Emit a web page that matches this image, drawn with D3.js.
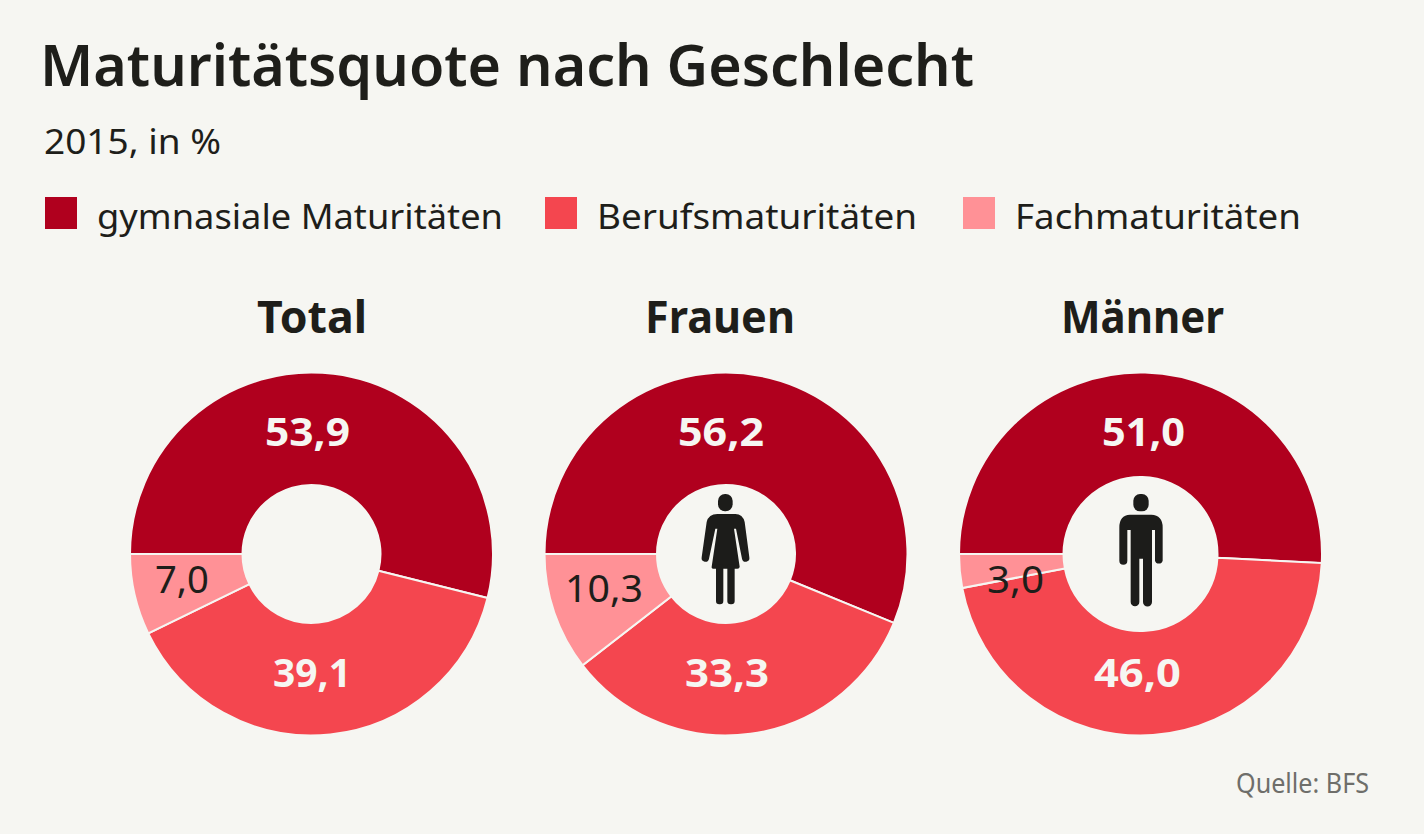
<!DOCTYPE html>
<html>
<head>
<meta charset="utf-8">
<script src="https://d3js.org/d3.v7.min.js"></script>
<style>
  html, body { margin: 0; padding: 0; background: #f6f6f2; }
  text { font-family: "Noto Sans", sans-serif; fill: #1e1e1a; }
</style>
</head>
<body>
<div id="chart"></div>
<script>
const categories = ["gymnasiale Maturitäten", "Berufsmaturitäten", "Fachmaturitäten"];
const groups = ["Total", "Frauen", "Männer"];
// printed values
const totalValues = [53.9, 39.1, 7.0];
const frauenValues = [56.2, 33.3, 10.3];
const maennerValues = [51.0, 46.0, 3.0];
// slice sizes as measured on the picture, they differ a bit from the printed labels
const totalShares = [53.9, 38.9, 7.2];
const frauenShares = [56.2, 33.3, 10.5];
const maennerShares = [50.8, 46.2, 3.0];
const colors = ["#b0001e", "#f4464f", "#ff9196"];

const width = 1424;
const height = 834;

const svg = d3.select("#chart").append("svg")
  .attr("width", width)
  .attr("height", height)
  .style("display", "block");

svg.append("text")
  .attr("x", 40)
  .attr("y", 86)
  .style("font-size", "58px")
  .style("font-weight", 600)
  .attr("textLength", 934)
  .attr("lengthAdjust", "spacingAndGlyphs")
  .text("Maturitätsquote nach Geschlecht");

svg.append("text")
  .attr("x", 44)
  .attr("y", 154)
  .style("font-size", "34px")
  .attr("textLength", 177)
  .attr("lengthAdjust", "spacingAndGlyphs")
  .text("2015, in %");

// legend
const legendX = [45, 545, 963];
const legendW = [406, 320, 286];
categories.forEach((c, i) => {
  svg.append("rect")
    .attr("x", legendX[i])
    .attr("y", 197)
    .attr("width", 32)
    .attr("height", 32)
    .attr("fill", colors[i]);
  svg.append("text")
    .attr("x", legendX[i] + 52)
    .attr("y", 229)
    .style("font-size", "35px")
    .attr("textLength", legendW[i])
    .attr("lengthAdjust", "spacingAndGlyphs")
    .text(c);
});

const pie = d3.pie().sort(null)
  .startAngle(-Math.PI / 2)
  .endAngle(Math.PI * 1.5);

const donuts = [
  { name: groups[0], values: totalValues, shares: totalShares, cx: 311.5, inner: 69,
    titleX: 312, titleW: 110,
    labelX: [-4, 0.5, -129.5], labelY: [-108, 133, 39], labelW: [85, 78, 54] },
  { name: groups[1], values: frauenValues, shares: frauenShares, cx: 726, inner: 69,
    titleX: 720, titleW: 150,
    labelX: [-5, 1, -122], labelY: [-108, 133, 48], labelW: [86, 84, 78] },
  { name: groups[2], values: maennerValues, shares: maennerShares, cx: 1140.5, inner: 77,
    titleX: 1142.5, titleW: 163,
    labelX: [3, -3, -125], labelY: [-108, 133, 39], labelW: [83, 87, 57] }
];
const cy = 554;
const outer = 181.5;

donuts.forEach(d => {
  const g = svg.append("g").attr("transform", `translate(${d.cx},${cy})`);
  const arc = d3.arc().innerRadius(d.inner).outerRadius(outer);

  svg.append("text")
    .attr("x", d.titleX)
    .attr("y", 332.5)
    .attr("text-anchor", "middle")
    .style("font-size", "44px")
    .style("font-weight", 700)
    .attr("textLength", d.titleW)
    .attr("lengthAdjust", "spacingAndGlyphs")
    .text(d.name);

  g.selectAll("path.slice")
    .data(pie(d.shares))
    .join("path")
    .attr("class", "slice")
    .attr("fill", (s, i) => colors[i])
    .attr("stroke", "#f6f6f2")
    .attr("stroke-width", 2)
    .attr("d", arc);

  g.selectAll("text.val")
    .data(d.values)
    .join("text")
    .attr("class", "val")
    .attr("text-anchor", "middle")
    .attr("x", (v, i) => d.labelX[i])
    .attr("y", (v, i) => d.labelY[i])
    .style("font-size", "39px")
    .style("font-weight", (v, i) => i === 2 ? 400 : 700)
    .style("fill", (v, i) => i === 2 ? "#1e1e1a" : "#f6f6f2")
    .attr("textLength", (v, i) => d.labelW[i])
    .attr("lengthAdjust", "spacingAndGlyphs")
    .text(v => d3.format(".1f")(v).replace(".", ","));
});

// pictograms, drawn in 3x units round the donut centre
const iconColor = "#1c1c1a";

function woman(g) {
  g.append("rect").attr("x", -24).attr("y", -180).attr("width", 44).attr("height", 52).attr("rx", 21).attr("fill", iconColor);
  g.append("path").attr("fill", iconColor)
    .attr("d", "M-26,-120 L28,-120 Q50,-120 56,-96 L70,10 A11,11 0 0 1 48,14 L30,-76 L24,-76 L41,38 Q41,44 34,44 L-36,44 Q-44,44 -43,38 L-26,-76 L-32,-76 L-51,14 A11,11 0 0 1 -73,10 L-58,-96 Q-52,-120 -26,-120 Z");
  g.append("rect").attr("x", -30).attr("y", 30).attr("width", 22).attr("height", 121).attr("rx", 10).attr("fill", iconColor);
  g.append("rect").attr("x", 4).attr("y", 30).attr("width", 22).attr("height", 121).attr("rx", 10).attr("fill", iconColor);
}

function man(g) {
  g.append("rect").attr("x", -20).attr("y", -180).attr("width", 46).attr("height", 52).attr("rx", 20).attr("fill", iconColor);
  g.append("path").attr("fill", iconColor)
    .attr("d", "M-30,-118 L34,-118 Q68,-116 68,-80 L68,20 A12,12 0 0 1 45,20 L45,-72 L36,-72 L36,144 A13,13 0 0 1 9,144 L9,14 L-2,14 L-2,144 A13,13 0 0 1 -28,144 L-28,-72 L-38,-72 L-38,20 A12,12 0 0 1 -62,20 L-62,-80 Q-62,-116 -30,-118 Z");
}

woman(svg.append("g").attr("transform", `translate(726,${cy}) scale(${1 / 3})`));
man(svg.append("g").attr("transform", `translate(1140,${cy}) scale(${1 / 3})`));

svg.append("text")
  .attr("x", 1369)
  .attr("y", 793)
  .attr("text-anchor", "end")
  .style("font-size", "27px")
  .style("fill", "#6e6e6a")
  .attr("textLength", 133)
  .attr("lengthAdjust", "spacingAndGlyphs")
  .text("Quelle: BFS");
</script>
</body>
</html>
